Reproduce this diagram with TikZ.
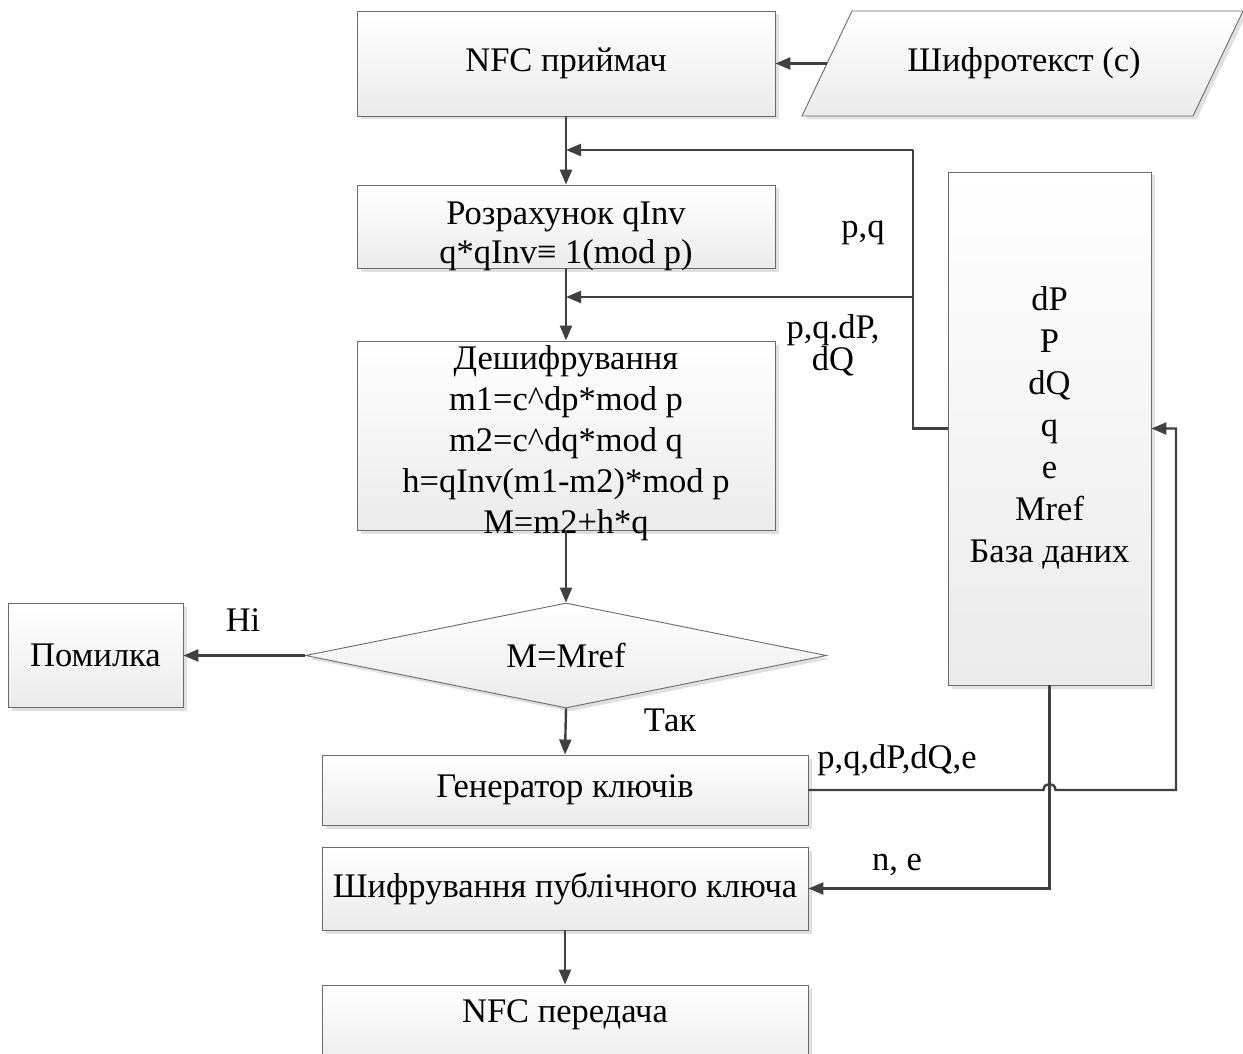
\documentclass[tikz,border=0pt]{standalone}
\usepackage{fontspec}
\setmainfont{Liberation Serif}
\usetikzlibrary{shapes.geometric,arrows.meta,shadows,calc}
\newcommand{\mylines}[3]{\raisebox{#1}[\dimexpr\height-12pt\relax][\dimexpr\depth-12pt\relax]{\fontsize{34.5}{#2}\selectfont\begin{tabular}{@{}c@{}}#3\end{tabular}}}
\begin{document}
\begin{tikzpicture}[x=1pt,y=-1pt,
  every node/.style={font=\fontsize{34.5}{41}\selectfont, inner sep=0pt},
  boxlook/.style={draw=black!58, line width=0.9pt, top color=white, bottom color=black!8,
    drop shadow={shadow xshift=3.5pt, shadow yshift=-3.5pt, fill=black!12, opacity=1}},
  box/.style={boxlook, align=center},
  conn/.style={draw=black!75, line width=2.4pt},
  arr/.style={conn, -{Triangle[length=15pt,width=12pt]}},
  lbl/.style={align=center, font=\fontsize{34.5}{30}\selectfont}]
\useasboundingbox (0,0) rectangle (1243,1054);

% boxes
\node[box, minimum width=418pt, minimum height=105pt] (nfcin) at (566,63.5) {NFC приймач};
\path[boxlook] (802,116) -- (852,11) -- (1243,11) -- (1193,116) -- cycle;
\node (cipher) at (1024,63.5) {Шифротекст (с)};
\coordinate (cin) at (827,63.5);
\node[box, minimum width=418pt, minimum height=83pt] (calc) at (566,226.5)
  {\mylines{-9.5pt}{39}{Розрахунок qInv\\q*qInv≡ 1(mod p)}};
\node[box, minimum width=418pt, minimum height=189pt] (dec) at (566,435.5)
  {\mylines{-8pt}{41}{Дешифрування\\m1=c\textasciicircum dp*mod p\\m2=c\textasciicircum dq*mod q\\h=qInv(m1-m2)*mod p\\M=m2+h*q}};
\node[box, diamond, aspect=5, minimum width=521pt, minimum height=105pt] (dia) at (566,655.5) {M=Mref};
\node[box, minimum width=175pt, minimum height=104pt] (err) at (95.5,655.5) {Помилка};
\node[box, minimum width=486pt, minimum height=70pt] (gen) at (565,790) {Генератор ключів};
\node[box, minimum width=486pt, minimum height=83pt] (enc) at (565,888.5) {Шифрування публічного ключа};
\node[box, minimum width=486pt, minimum height=84pt] (nfcout) at (565,1027)
  {\raisebox{12pt}[\height][\depth]{NFC передача}};
\node[box, minimum width=203pt, minimum height=513pt] (db) at (1049.5,428.5)
  {\mylines{0pt}{42}{dP\\P\\dQ\\q\\e\\Mref\\База даних}};

% labels
\node[lbl] (lpq) at (863,233) {p,q};
\node[lbl] (lpqd) at (833,345) {p,q.dP,\\dQ};
\node[lbl] (lno) at (243,620) {Ні};
\node[lbl] (lyes) at (670,720) {Так};
\node[lbl] (lgen) at (897,760) {p,q,dP,dQ,e};
\node[lbl] (lne) at (897,865) {n, e};

% junction coordinates
\coordinate (j1) at (566,150);
\coordinate (j2) at (566,297);
\coordinate (b1) at (913,150);
\coordinate (b2) at (913,297);
\coordinate (b3) at (913,428.5);
\coordinate (r1) at (1176,790);
\coordinate (r2) at (1176,428.5);
\coordinate (h1) at (1043.5,790);
\coordinate (h2) at (1055.5,790);

% connectors
\draw[arr] (cin) -- (nfcin.east);
\draw[arr] (nfcin.south) -- (calc.north);
\draw[conn] (db.west) -- (b3) -- (b1);
\draw[arr] (b1) -- (j1);
\draw[arr] (b2) -- (j2);
\draw[arr] (calc.south) -- (dec.north);
\draw[arr] (dec.south) -- (dia.north);
\draw[arr] (dia.west) -- (err.east);
\draw[arr] (dia.south) -- (gen.north);
\draw[arr] (gen.east) -- (h1) .. controls (1043.5,782) and (1055.5,782) .. (h2) -- (r1) -- (r2) -- (db.east);
\draw[arr] (db.south) |- (enc.east);
\draw[arr] (enc.south) -- (nfcout.north);
\end{tikzpicture}
\end{document}
